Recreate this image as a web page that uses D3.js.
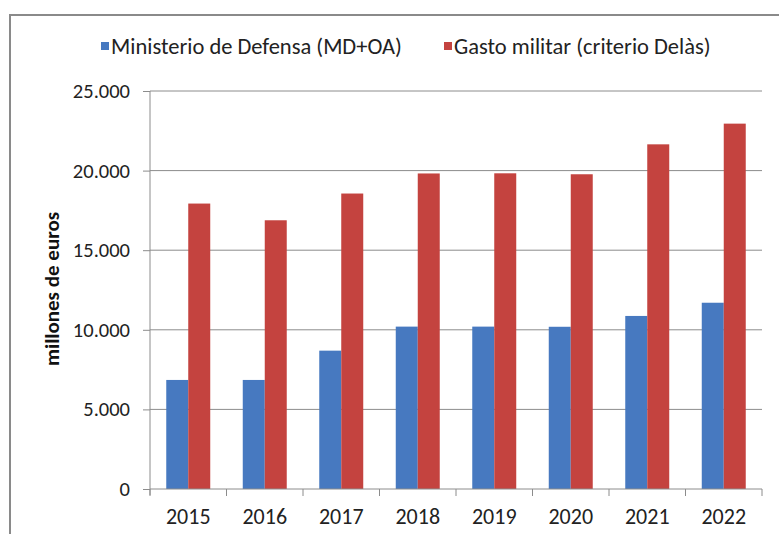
<!DOCTYPE html>
<html>
<head>
<meta charset="utf-8">
<script src="https://cdn.jsdelivr.net/npm/d3@7"></script>
<style>
  body { margin: 0; background: #fff; }
  svg { display: block; font-family: Carlito, Calibri, "Open Sans", sans-serif; }
</style>
</head>
<body>
<svg id="chart"></svg>
<script>
const years = ["2015", "2016", "2017", "2018", "2019", "2020", "2021", "2022"];
const seriesNames = ["Ministerio de Defensa (MD+OA)", "Gasto militar (criterio Delàs)"];
const defensa = [6850, 6850, 8690, 10200, 10200, 10190, 10870, 11700];
const delas = [17930, 16880, 18560, 19820, 19830, 19770, 21650, 22950];
const yTicks = [0, 5000, 10000, 15000, 20000, 25000];
const colors = ["#4779c0", "#c4433f"];

const W = 779, H = 534;
const margin = { top: 91, right: 17, bottom: 45, left: 150 };

const svg = d3.select("#chart").attr("width", W).attr("height", H);

// frame (top + left only visible in the picture)
svg.append("line").attr("x1", 9).attr("x2", W).attr("y1", 15).attr("y2", 15)
  .attr("stroke", "#8a8a8a").attr("stroke-width", 2);
svg.append("line").attr("x1", 10).attr("x2", 10).attr("y1", 15).attr("y2", H)
  .attr("stroke", "#8a8a8a").attr("stroke-width", 2);

const x = d3.scaleBand().domain(years).range([margin.left, W - margin.right]);
const bw = x.bandwidth();
const x1 = d3.scaleBand().domain([0, 1]).range([bw * 0.2125, bw * 0.7875]);
const y = d3.scaleLinear().domain([0, 25000]).range([H - margin.bottom, margin.top]);

const fmt = (v) => d3.format(",")(v).replace(/,/g, ".");

// gridlines
svg.append("g")
  .selectAll("line")
  .data(yTicks.slice(1))
  .join("line")
  .attr("x1", margin.left).attr("x2", W - margin.right)
  .attr("y1", (d) => y(d)).attr("y2", (d) => y(d))
  .attr("stroke", "#8c8c8c").attr("stroke-width", 1);

// bars
const rows = years.map((yr, i) => ({ year: yr, values: [defensa[i], delas[i]] }));
svg.append("g")
  .selectAll("g")
  .data(rows)
  .join("g")
  .attr("transform", (d) => `translate(${x(d.year)},0)`)
  .selectAll("rect")
  .data((d) => d.values.map((v, k) => ({ k, v })))
  .join("rect")
  .attr("x", (d) => x1(d.k))
  .attr("width", x1.bandwidth())
  .attr("y", (d) => y(d.v))
  .attr("height", (d) => y(0) - y(d.v))
  .attr("fill", (d) => colors[d.k]);

// y axis
const yAxis = svg.append("g")
  .attr("transform", `translate(${margin.left},0)`)
  .call(d3.axisLeft(y).tickValues(yTicks).tickFormat(fmt).tickSize(7).tickPadding(13));
yAxis.select(".domain").attr("stroke", "#8c8c8c").attr("d", `M0,${y(0) + 6}V${y(25000)}`);
yAxis.selectAll(".tick line").attr("stroke", "#8c8c8c");
yAxis.selectAll(".tick text").attr("font-size", 20.5).attr("fill", "#222")
  .attr("font-family", "Carlito, Calibri, 'Open Sans', sans-serif");

// x axis
const xAxis = svg.append("g")
  .attr("transform", `translate(0,${y(0)})`)
  .call(d3.axisBottom(x).tickSize(0).tickPadding(19));
xAxis.select(".domain").attr("stroke", "#8c8c8c").attr("d", `M${margin.left},0H${W - margin.right}`);
xAxis.selectAll(".tick text").attr("font-size", 22).attr("fill", "#222")
  .attr("font-family", "Carlito, Calibri, 'Open Sans', sans-serif");
xAxis.append("g")
  .selectAll("line")
  .data(years.map((d) => x(d)).concat([x(years[years.length - 1]) + bw]))
  .join("line")
  .attr("x1", (d) => d).attr("x2", (d) => d)
  .attr("y1", 0).attr("y2", 7)
  .attr("stroke", "#8c8c8c");

// y label
svg.append("text")
  .attr("transform", `translate(52,${(y(0) + y(25000)) / 2 - 1}) rotate(-90)`)
  .attr("text-anchor", "middle")
  .attr("dominant-baseline", "central")
  .attr("font-size", 21)
  .attr("font-weight", "bold")
  .attr("fill", "#111")
  .text("millones de euros");

// legend
const legendX = [101, 444];
const legend = svg.append("g")
  .selectAll("g")
  .data(seriesNames)
  .join("g")
  .attr("transform", (d, i) => `translate(${legendX[i]},46)`);
legend.append("rect")
  .attr("x", 0).attr("y", -4).attr("width", 8).attr("height", 8)
  .attr("fill", (d, i) => colors[i]);
legend.append("text")
  .attr("x", 10)
  .attr("dominant-baseline", "central")
  .attr("font-size", 22.5)
  .attr("fill", "#222")
  .text((d) => d);
</script>
</body>
</html>
